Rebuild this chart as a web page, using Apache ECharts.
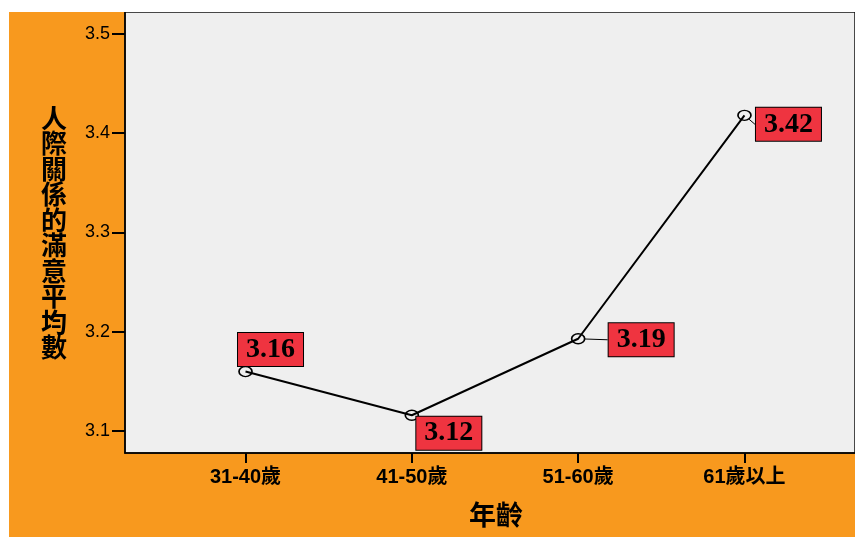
<!DOCTYPE html>
<html>
<head>
<meta charset="utf-8">
<script src="https://cdn.jsdelivr.net/npm/echarts@6/dist/echarts.min.js"></script>
<style>
html,body{margin:0;padding:0;background:#ffffff;width:855px;height:537px;overflow:hidden;}
#chart{position:absolute;left:9px;top:12px;width:846px;height:525px;}
</style>
</head>
<body>
<div id="chart"></div>
<script>
// ---- data ----
const categories = ['31-40歲', '41-50歲', '51-60歲', '61歲以上'];
const meanValues = [3.160, 3.116, 3.193, 3.418];
const yTickValues = [3.1, 3.2, 3.3, 3.4, 3.5];
const xTitle = '年齡';
const yTitle = '人際關係的滿意平均數';

// label displacement from each point (layout, not data)
const labelShift = [[25, -22], [37, 18], [63, 1], [44, 9]];
const showGuide = [false, false, true, true];

const chart = echarts.init(document.getElementById('chart'), null, {renderer: 'canvas'});
const option = {
  backgroundColor: '#F8991E',
  animation: false,
  grid: {
    left: 116, top: 0, right: -3, bottom: 84,
    show: true, backgroundColor: '#EFEFEF', borderColor: '#111', borderWidth: 1.5
  },
  xAxis: {
    type: 'value',
    min: -0.7246,
    max: -0.7246 + 733 / 167,
    splitLine: {show: false},
    axisLine: {show: true, onZero: false, lineStyle: {color: '#000', width: 1.5}},
    axisTick: {show: true, length: 10, customValues: categories.map((c, i) => i), lineStyle: {color: '#000', width: 2}},
    axisLabel: {
      customValues: categories.map((c, i) => i),
      formatter: v => categories[Math.round(v)],
      color: '#000', fontWeight: 'bold', fontSize: 20, margin: 14,
      fontFamily: 'Liberation Sans, "Noto Sans CJK TC", sans-serif'
    },
    name: xTitle,
    nameLocation: 'middle',
    nameGap: 48,
    nameTextStyle: {color: '#000', fontSize: 27, fontWeight: 'bold', fontFamily: '"Noto Sans CJK TC", sans-serif', padding: [0, 0, 0, 12]}
  },
  yAxis: {
    type: 'value',
    min: 3.078,
    max: 3.522,
    splitLine: {show: false},
    axisLine: {show: true, onZero: false, lineStyle: {color: '#000', width: 1.5}},
    axisTick: {show: true, length: 13, customValues: yTickValues, lineStyle: {color: '#000', width: 2}},
    axisLabel: {
      customValues: yTickValues,
      formatter: v => v.toFixed(1),
      color: '#000', fontSize: 18, margin: 15,
      fontFamily: 'Liberation Sans, sans-serif'
    },
    name: yTitle.split('').join('\n'),
    nameLocation: 'middle',
    nameRotate: 0,
    nameGap: 58,
    nameTextStyle: {color: '#000', fontSize: 26, lineHeight: 25.5, fontWeight: 'bold', fontFamily: '"Noto Sans CJK TC", sans-serif'}
  },
  series: [{
    type: 'line',
    data: meanValues.map((v, i) => ({value: [i, v], labelLine: {show: showGuide[i]}})),
    symbol: 'circle',
    symbolSize: [13, 10],
    lineStyle: {color: '#000', width: 2},
    itemStyle: {color: 'rgba(0,0,0,0)', borderColor: '#000', borderWidth: 1.5},
    label: {
      show: true,
      position: 'inside',
      formatter: p => p.value[1].toFixed(2),
      color: '#000',
      fontFamily: 'Liberation Serif, serif',
      fontWeight: 'bold',
      fontSize: 28,
      lineHeight: 29,
      backgroundColor: '#EF3440',
      borderColor: '#000',
      borderWidth: 1,
      padding: [2, 8]
    },
    labelLine: {show: true, lineStyle: {color: '#000', width: 1}},
    labelLayout: p => ({dx: labelShift[p.dataIndex][0], dy: labelShift[p.dataIndex][1]})
  }]
};
chart.setOption(option);
</script>
</body>
</html>
